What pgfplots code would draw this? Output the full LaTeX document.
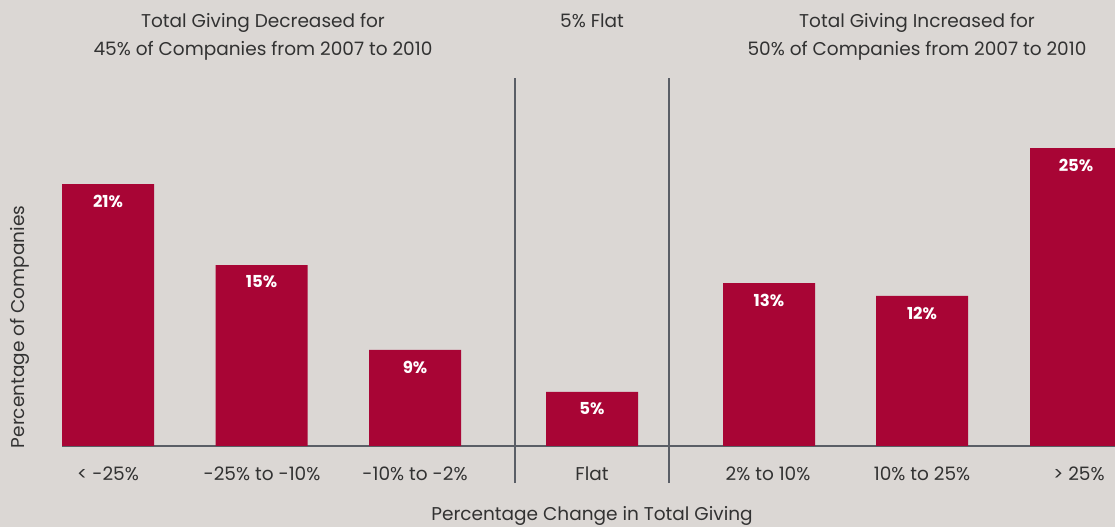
\documentclass[border=0pt]{standalone}
\usepackage{fontspec}
\setmainfont{Poppins}
\usepackage{pgfplots}
\usepackage{pgfplotstable}
\pgfplotsset{compat=1.18}
\definecolor{bg}{RGB}{219,215,212}
\definecolor{bar}{RGB}{168,5,53}
\definecolor{axisgray}{RGB}{90,94,102}
\definecolor{txt}{RGB}{50,50,50}
\pgfplotstableread{
x      y      lab
108    21.83  21\%
261.5  15.08  15\%
415    8.0    9\%
592    4.5    5\%
769    13.58  13\%
922    12.5   12\%
1076   24.83  25\%
}\datatable
\begin{document}
\begin{tikzpicture}
\useasboundingbox (0,0) rectangle (1115pt,527pt);
\fill[bg] (0,0) rectangle (1115pt,527pt);
\begin{axis}[
  at={(62pt,81pt)}, anchor=south west,
  scale only axis, width=1053pt, height=446pt,
  xmin=62, xmax=1115, ymin=0, ymax=37.1667,
  axis x line*=bottom, axis y line=none,
  axis line style={color=axisgray, line width=1.5pt},
  xtick={108,262,415,592,768,922,1079},
  xticklabels={{< -25\%},{-25\% to -10\%},{-10\% to -2\%},{Flat},{2\% to 10\%},{10\% to 25\%},{> 25\%}},
  major tick length=0pt,
  ytick=\empty,
  xticklabel style={font=\fontsize{18.5}{22}\selectfont, text=txt, anchor=base, yshift=-34pt},
  /pgf/number format/assume math mode=true,
  clip=true,
]
\addplot[ybar, bar width=92, fill=bar, draw=none,
  nodes near coords, point meta=explicit symbolic,
  every node near coord/.append style={anchor=center, yshift=-17pt, text=white, font=\fontsize{16.5}{19}\selectfont\bfseries}]
  table[x=x, y=y, meta=lab] {\datatable};
\end{axis}
\draw[axisgray, line width=1.2pt] (515pt,44pt) -- (515pt,449pt);
\draw[axisgray, line width=1.2pt] (669pt,44pt) -- (669pt,449pt);
\begin{scope}[every node/.style={text=txt, font=\fontsize{18.5}{22}\selectfont, inner sep=0pt}]
\node[anchor=base] at (263pt,499pt) {Total Giving Decreased for};
\node[anchor=base] at (263pt,471pt) {45\% of Companies from 2007 to 2010};
\node[anchor=base] at (592pt,499pt) {5\% Flat};
\node[anchor=base] at (917pt,499pt) {Total Giving Increased for};
\node[anchor=base] at (917pt,471pt) {50\% of Companies from 2007 to 2010};
\node[anchor=base] at (592pt,7pt) {Percentage Change in Total Giving};
\node[rotate=90, anchor=base] at (24pt,200pt) {Percentage of Companies};
\end{scope}
\end{tikzpicture}
\end{document}
